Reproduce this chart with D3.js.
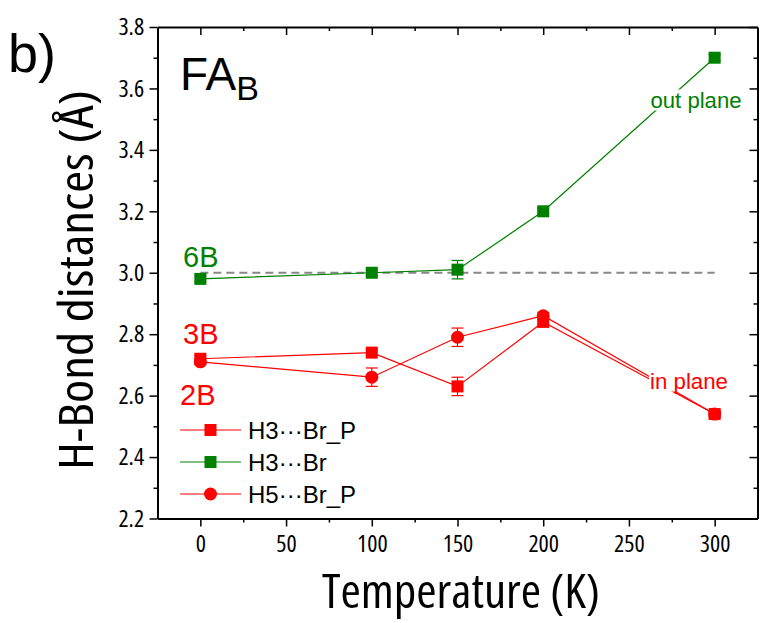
<!DOCTYPE html>
<html>
<head>
<meta charset="utf-8">
<script src="https://cdn.jsdelivr.net/npm/d3@7/dist/d3.min.js"></script>
<style>
  html, body { margin: 0; padding: 0; background: #fff; }
  svg { display: block; }
  .narrow { font-family: "Liberation Sans Narrow", "Open Sans", sans-serif; font-stretch: condensed; }
  .sans { font-family: "Liberation Sans", Arial, sans-serif; }
</style>
</head>
<body>
<svg id="chart" width="760" height="623"></svg>
<script>
// Temperatures (K) at which the H-bond distances were measured
const temperatures = [0, 100, 150, 200, 300];

// H-bond distances (Å) and their uncertainties
const h3BrP = [2.72, 2.74, 2.63, 2.84, 2.54];
const h3BrPErr = [0.01, 0.01, 0.03, 0.01, 0.01];
const h3Br = [2.98, 3.00, 3.01, 3.20, 3.70];
const h3BrErr = [0.01, 0.01, 0.03, 0.01, 0.01];
const h5BrP = [2.71, 2.66, 2.79, 2.86, 2.54];
const h5BrPErr = [0.01, 0.03, 0.03, 0.01, 0.01];

const xTicks = [0, 50, 100, 150, 200, 250, 300];
const yTicks = [2.2, 2.4, 2.6, 2.8, 3.0, 3.2, 3.4, 3.6, 3.8];
const referenceDistance = 3.0;

const series = [
  { name: "H3\u00b7\u00b7\u00b7Br_P", y: h3BrP, err: h3BrPErr, color: "#ff0000", shape: "square" },
  { name: "H3\u00b7\u00b7\u00b7Br",   y: h3Br,  err: h3BrErr,  color: "#008000", shape: "square" },
  { name: "H5\u00b7\u00b7\u00b7Br_P", y: h5BrP, err: h5BrPErr, color: "#ff0000", shape: "circle" }
];

const svg = d3.select("#chart");
const plotLeft = 157.5, plotRight = 757.5, plotTop = 27, plotBottom = 518.5;

const x = d3.scaleLinear().domain([-25, 325]).range([plotLeft, plotRight]);
const y = d3.scaleLinear().domain([2.2, 3.8]).range([plotBottom, plotTop]);

// Frame and axes
const minorX = d3.range(25, 300, 50);
const minorY = d3.range(2.3, 3.8, 0.2).map(v => +v.toFixed(1));

const axisStyle = g => {
  g.select(".domain").attr("stroke", "#000").attr("stroke-width", 2);
  g.selectAll(".tick line").attr("stroke", "#000").attr("stroke-width", 1.5);
};

// bottom
svg.append("g").attr("transform", `translate(0,${plotBottom})`)
  .call(d3.axisBottom(x).tickValues(xTicks).tickSize(8).tickSizeOuter(0).tickFormat(d3.format("d")))
  .call(axisStyle)
  .call(g => g.selectAll("text").attr("class", "narrow").attr("font-size", 24).attr("fill", "#000").attr("dy", "0.95em"));
svg.append("g").attr("transform", `translate(0,${plotBottom})`)
  .call(d3.axisBottom(x).tickValues(minorX).tickSize(4).tickFormat(""))
  .call(axisStyle).call(g => g.select(".domain").remove());

// top (ticks point inward)
svg.append("g").attr("transform", `translate(0,${plotTop})`)
  .call(d3.axisTop(x).tickValues(xTicks).tickSize(-8).tickSizeOuter(0).tickFormat(""))
  .call(axisStyle);
svg.append("g").attr("transform", `translate(0,${plotTop})`)
  .call(d3.axisTop(x).tickValues(minorX).tickSize(-4).tickFormat(""))
  .call(axisStyle).call(g => g.select(".domain").remove());

// left
svg.append("g").attr("transform", `translate(${plotLeft},0)`)
  .call(d3.axisLeft(y).tickValues(yTicks).tickSize(8).tickSizeOuter(0).tickFormat(d3.format(".1f")))
  .call(axisStyle)
  .call(g => g.selectAll("text").attr("class", "narrow").attr("font-size", 24).attr("fill", "#000").attr("dx", "-0.1em"));
svg.append("g").attr("transform", `translate(${plotLeft},0)`)
  .call(d3.axisLeft(y).tickValues(minorY).tickSize(4).tickFormat(""))
  .call(axisStyle).call(g => g.select(".domain").remove());

// right (ticks point inward)
svg.append("g").attr("transform", `translate(${plotRight},0)`)
  .call(d3.axisRight(y).tickValues(yTicks).tickSize(-8).tickSizeOuter(0).tickFormat(""))
  .call(axisStyle);
svg.append("g").attr("transform", `translate(${plotRight},0)`)
  .call(d3.axisRight(y).tickValues(minorY).tickSize(-4).tickFormat(""))
  .call(axisStyle).call(g => g.select(".domain").remove());

// Reference line at 3.0 Å
svg.append("line")
  .attr("x1", x(0)).attr("x2", x(300))
  .attr("y1", y(referenceDistance)).attr("y2", y(referenceDistance))
  .attr("stroke", "#888").attr("stroke-width", 2).attr("stroke-dasharray", "8,5");

// Series lines, error bars, markers
const line = d3.line().x(d => x(d.t)).y(d => y(d.v));
series.forEach(s => {
  const pts = temperatures.map((t, i) => ({ t, v: s.y[i], e: s.err[i] }));
  svg.append("path").datum(pts).attr("d", line)
    .attr("fill", "none").attr("stroke", s.color).attr("stroke-width", 1.2);
  const eb = svg.append("g").attr("stroke", s.color).attr("stroke-width", 1.2);
  pts.forEach(p => {
    const cx = x(p.t), y0 = y(p.v - p.e), y1 = y(p.v + p.e);
    eb.append("line").attr("x1", cx).attr("x2", cx).attr("y1", y0).attr("y2", y1);
    eb.append("line").attr("x1", cx - 6).attr("x2", cx + 6).attr("y1", y0).attr("y2", y0);
    eb.append("line").attr("x1", cx - 6).attr("x2", cx + 6).attr("y1", y1).attr("y2", y1);
  });
  const mk = svg.append("g").attr("fill", s.color);
  pts.forEach(p => {
    if (s.shape === "square") {
      mk.append("rect").attr("x", x(p.t) - 6).attr("y", y(p.v) - 6).attr("width", 12).attr("height", 12);
    } else {
      mk.append("circle").attr("cx", x(p.t)).attr("cy", y(p.v)).attr("r", 6.5);
    }
  });
});

// Annotations with a white box that breaks the lines behind them
function boxedLabel(text, cx, cy, color, size, len) {
  const t = svg.append("text").attr("class", "sans").attr("x", cx).attr("y", cy)
    .attr("text-anchor", "middle").attr("dominant-baseline", "central")
    .attr("font-size", size).attr("fill", color)
    .attr("textLength", len).attr("lengthAdjust", "spacingAndGlyphs").text(text);
  const bb = t.node().getBBox();
  svg.insert("rect", () => t.node())
    .attr("x", bb.x - 1).attr("y", bb.y + 2).attr("width", bb.width + 2).attr("height", bb.height - 4)
    .attr("fill", "#fff");
}
boxedLabel("out plane", 696, 100, "#008000", 22, 91);
boxedLabel("in plane", 689, 381, "#ff0000", 22, 78);

// Site labels
svg.append("text").attr("class", "sans").attr("x", 183).attr("y", 267).attr("font-size", 29).attr("fill", "#008000").text("6B");
svg.append("text").attr("class", "sans").attr("x", 183).attr("y", 344).attr("font-size", 29).attr("fill", "#ff0000").text("3B");
svg.append("text").attr("class", "sans").attr("x", 180).attr("y", 405).attr("font-size", 29).attr("fill", "#ff0000").text("2B");

// Panel and structure labels
svg.append("text").attr("class", "sans").attr("x", 8).attr("y", 72).attr("font-size", 54).attr("fill", "#000").text("b)");
const fa = svg.append("text").attr("class", "sans").attr("x", 180).attr("y", 90).attr("font-size", 46).attr("fill", "#000");
fa.append("tspan").text("FA");
fa.append("tspan").attr("font-size", 34).attr("dy", 10).text("B");

// Legend
series.forEach((s, i) => {
  const ly = 430 + i * 32;
  const g = svg.append("g");
  g.append("line").attr("x1", 180).attr("x2", 241).attr("y1", ly).attr("y2", ly)
    .attr("stroke", s.color).attr("stroke-width", 1.2);
  if (s.shape === "square") {
    g.append("rect").attr("x", 204.5).attr("y", ly - 6).attr("width", 12).attr("height", 12).attr("fill", s.color);
  } else {
    g.append("circle").attr("cx", 210.5).attr("cy", ly).attr("r", 6.5).attr("fill", s.color);
  }
  g.append("text").attr("class", "sans").attr("x", 248).attr("y", ly).attr("dominant-baseline", "central")
    .attr("font-size", 24).attr("fill", "#000").text(s.name);
});

// Axis titles
svg.append("text").attr("class", "narrow").attr("x", 461).attr("y", 608)
  .attr("text-anchor", "middle").attr("font-size", 47).attr("fill", "#000")
  .attr("textLength", 278).attr("lengthAdjust", "spacingAndGlyphs").text("Temperature (K)");
svg.append("text").attr("class", "narrow")
  .attr("transform", `translate(93,280) rotate(-90)`)
  .attr("text-anchor", "middle").attr("font-size", 48).attr("fill", "#000")
  .attr("textLength", 380).attr("lengthAdjust", "spacingAndGlyphs").text("H-Bond distances (Å)");
</script>
</body>
</html>
